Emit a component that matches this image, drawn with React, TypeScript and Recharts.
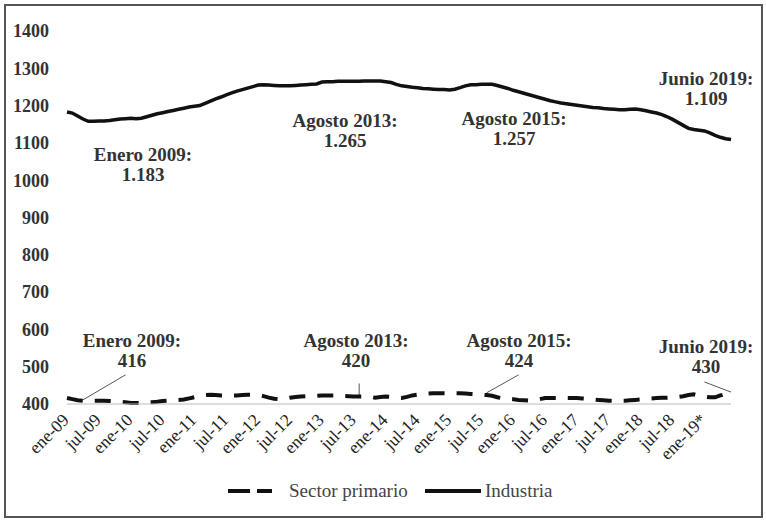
import { LineChart, Line, XAxis, YAxis, ReferenceLine } from "recharts";

// Empleo registrado (miles) — ene-09 a jun-19
const MESES = ["ene", "feb", "mar", "abr", "may", "jun", "jul", "ago", "sep", "oct", "nov", "dic"];
const ANIOS = ["09", "10", "11", "12", "13", "14", "15", "16", "17", "18", "19"];

const INDUSTRIA = [
  // 2009
  1183, 1180, 1172, 1164, 1158, 1158, 1159, 1159, 1160, 1162, 1164, 1165,
  // 2010
  1166, 1165, 1166, 1170, 1174, 1178, 1181, 1184, 1187, 1190, 1193, 1196,
  // 2011
  1198, 1200, 1206, 1212, 1218, 1223, 1229, 1234, 1239, 1243, 1247, 1251,
  // 2012
  1255, 1256, 1255, 1254, 1253, 1253, 1253, 1254, 1255, 1256, 1257, 1258,
  // 2013
  1263, 1264, 1264, 1265, 1265, 1265, 1265, 1265, 1266, 1266, 1266, 1266,
  // 2014
  1264, 1262, 1257, 1253, 1251, 1249, 1248, 1246, 1245, 1244, 1243, 1243,
  // 2015
  1242, 1244, 1248, 1253, 1256, 1256, 1257, 1257, 1257, 1254, 1250, 1246,
  // 2016
  1241, 1237, 1233, 1229, 1225, 1221, 1217, 1213, 1210, 1207, 1205, 1203,
  // 2017
  1201, 1199, 1197, 1195, 1194, 1192, 1191, 1190, 1189, 1189, 1190, 1191,
  // 2018
  1189, 1186, 1183, 1180, 1176, 1170, 1163, 1155, 1147, 1139, 1136, 1134,
  // 2019
  1132, 1127, 1120, 1115, 1111, 1109,
];

const SECTOR_PRIMARIO = [
  // 2009
  416, 413, 410, 409, 409, 409, 409, 409, 408, 407, 406, 405,
  // 2010
  403, 403, 403, 404, 405, 406, 408, 409, 410, 411, 412, 415,
  // 2011
  418, 421, 424, 425, 424, 423, 423, 423, 423, 424, 425, 425,
  // 2012
  424, 421, 417, 414, 413, 414, 417, 419, 420, 421, 421, 422,
  // 2013
  423, 423, 423, 423, 422, 421, 420, 420, 420, 419, 417, 419,
  // 2014
  420, 419, 417, 416, 419, 423, 425, 426, 428, 429, 429, 429,
  // 2015
  429, 429, 429, 428, 427, 426, 425, 424, 422, 418, 415, 414,
  // 2016
  413, 411, 410, 409, 410, 413, 416, 416, 416, 416, 416, 416,
  // 2017
  416, 415, 414, 412, 411, 410, 409, 409, 409, 409, 410, 411,
  // 2018
  412, 413, 415, 416, 417, 417, 418, 419, 421, 424, 426, 422,
  // 2019
  420, 418, 418, 423, 427, 430,
];

const Y_TICKS = [400, 500, 600, 700, 800, 900, 1000, 1100, 1200, 1300, 1400];

// etiquetas de meses: ene-09 ... jun-19 (ene-19 lleva asterisco)
const FECHAS: string[] = [];
ANIOS.forEach((a) =>
  MESES.forEach((m, i) => {
    if (a === "19" && i > 5) return;
    FECHAS.push(a === "19" && m === "ene" ? "ene-19*" : `${m}-${a}`);
  })
);

const data = FECHAS.map((f, i) => ({
  fecha: f,
  industria: INDUSTRIA[i],
  primario: SECTOR_PRIMARIO[i],
}));

// textos de las anotaciones (posición en px dentro del gráfico)
const NOTAS = [
  { t1: "Enero 2009:", t2: "1.183", x: 143, y: 161 },
  { t1: "Agosto 2013:", t2: "1.265", x: 345, y: 127 },
  { t1: "Agosto 2015:", t2: "1.257", x: 514, y: 125 },
  { t1: "Junio 2019:", t2: "1.109", x: 706, y: 85 },
  { t1: "Enero 2009:", t2: "416", x: 132, y: 347 },
  { t1: "Agosto 2013:", t2: "420", x: 356, y: 347 },
  { t1: "Agosto 2015:", t2: "424", x: 519, y: 347 },
  { t1: "Junio 2019:", t2: "430", x: 706, y: 353 },
];

// líneas guía hacia la serie del sector primario
const GUIAS = [
  { x1: "abr-09", y1: 411, x2: "dic-09", y2: 478 },
  { x1: "ago-13", y1: 421, x2: "ago-13", y2: 455 },
  { x1: "ago-15", y1: 430, x2: "feb-16", y2: 478 },
  { x1: "ene-19*", y1: 459, x2: "jun-19", y2: 432 },
];

const SERIF = "'Liberation Serif', 'Times New Roman', serif";

function XTick({ x, y, payload }: any) {
  const tx = x + 3;
  const ty = y + 9;
  return (
    <text
      x={tx}
      y={ty}
      transform={`rotate(-45, ${tx}, ${ty})`}
      textAnchor="end"
      fontFamily={SERIF}
      fontSize={17.5}
      fill="#222"
    >
      {payload.value}
    </text>
  );
}

export default function App() {
  return (
    <div
      style={{
        position: "absolute",
        left: 0,
        top: 0,
        width: 766,
        height: 520,
        background: "#fff",
      }}
    >
      <div
        style={{
          position: "absolute",
          left: 4,
          top: 4,
          width: 755,
          height: 510,
          border: "2px solid #555",
        }}
      />
      <LineChart
        width={766}
        height={520}
        data={data}
        margin={{ top: 31, right: 35, bottom: 86, left: 12 }}
      >
        <XAxis
          dataKey="fecha"
          interval={5}
          tickLine={false}
          axisLine={{ stroke: "#bbb" }}
          tick={<XTick />}
        />
        <YAxis
          width={55}
          domain={[400, 1400]}
          ticks={Y_TICKS}
          axisLine={false}
          tickLine={false}
          tickSize={10}
          tickMargin={8}
          tick={{ fontFamily: SERIF, fontSize: 18, fontWeight: "bold", fill: "#333" }}
        />
        {GUIAS.map((g, i) => (
          <ReferenceLine
            key={i}
            segment={[
              { x: g.x1, y: g.y1 },
              { x: g.x2, y: g.y2 },
            ]}
            stroke="#555"
            strokeWidth={1}
            ifOverflow="visible"
          />
        ))}
        <Line
          type="linear"
          dataKey="primario"
          stroke="#111"
          strokeWidth={4}
          strokeDasharray="16 12"
          dot={false}
          isAnimationActive={false}
        />
        <Line
          type="linear"
          dataKey="industria"
          stroke="#111"
          strokeWidth={3.5}
          dot={false}
          isAnimationActive={false}
        />
      </LineChart>
      <svg
        width={766}
        height={520}
        style={{ position: "absolute", left: 0, top: 0, pointerEvents: "none" }}
      >
        {NOTAS.map((n, i) => (
          <g key={i} fontFamily={SERIF} fontSize={19} fontWeight="bold" fill="#333" textAnchor="middle">
            <text x={n.x} y={n.y}>{n.t1}</text>
            <text x={n.x} y={n.y + 20}>{n.t2}</text>
          </g>
        ))}
        {/* leyenda */}
        <g fontFamily={SERIF} fontSize={19} fill="#444">
          <line x1={228} y1={491} x2={284} y2={491} stroke="#111" strokeWidth={4} strokeDasharray="22 7 15 12" />
          <text x={289} y={497}>Sector primario</text>
          <line x1={425} y1={491} x2={481} y2={491} stroke="#111" strokeWidth={4} />
          <text x={485} y={497}>Industria</text>
        </g>
      </svg>
    </div>
  );
}
